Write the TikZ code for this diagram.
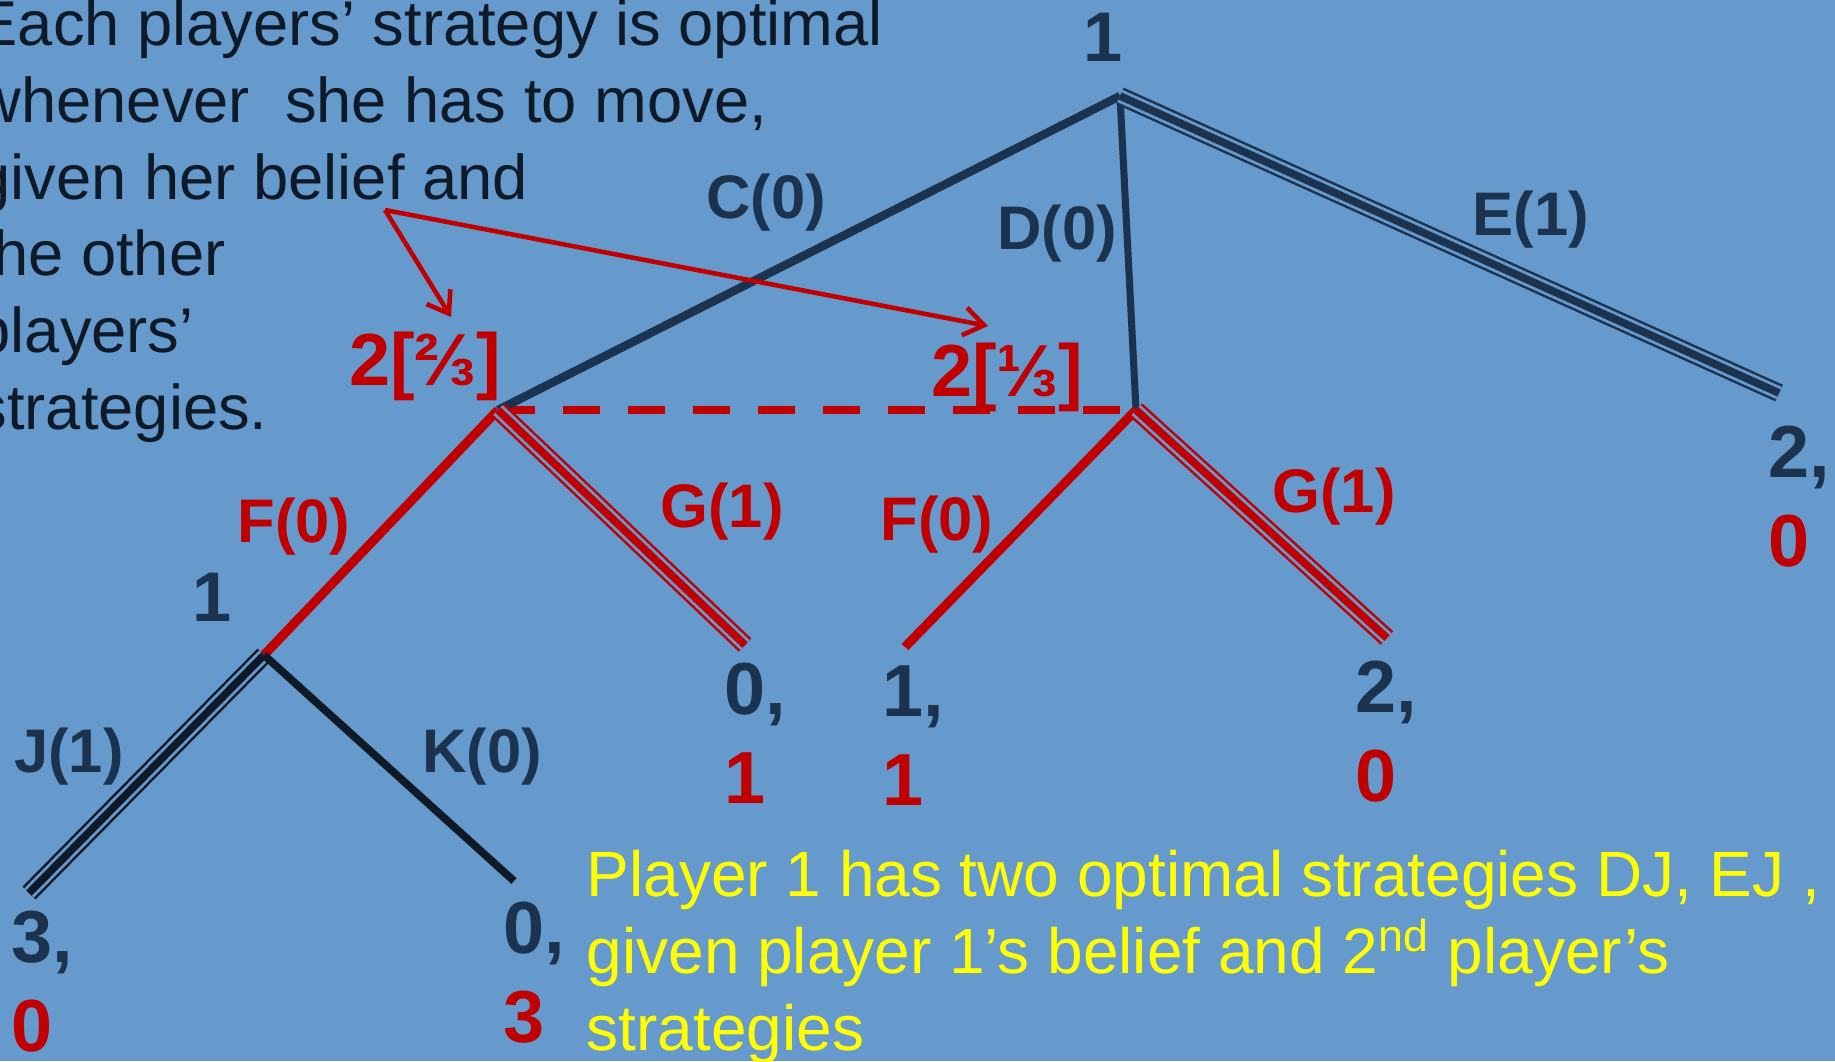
\documentclass[tikz,border=0pt]{standalone}
\usepackage{fontspec}
\setmainfont{Liberation Sans}
\usetikzlibrary{arrows.meta}
\definecolor{bgblue}{RGB}{102,153,204}
\definecolor{navy}{RGB}{28,51,79}
\definecolor{inkdark}{RGB}{14,26,40}
\definecolor{gred}{RGB}{192,0,0}
\definecolor{gyellow}{RGB}{255,255,0}
\tikzset{
  branch/.style={draw=#1, line width=2.4pt},
  optimal/.style={draw=#1, line width=2.2pt,
    preaction={draw=#1, line width=5.2pt},
    preaction={draw=bgblue, line width=3.8pt}},
  lbl/.style={font=\fontsize{17.5}{20}\selectfont\bfseries, text=#1, inner sep=0pt},
  player/.style={font=\fontsize{20}{24}\selectfont\bfseries, text=navy, inner sep=0pt},
  beliefs/.style={font=\fontsize{21}{25}\selectfont\bfseries, text=gred, inner sep=0pt},
  pay/.style={font=\fontsize{21}{25.3}\selectfont\bfseries, align=left,
    anchor=base west, inner sep=0pt},
  pointer/.style={gred, line width=1.3pt, -{Straight Barb[length=2mm, width=2.8mm]}},
}
% last line of a node sits on its anchor
\newcommand{\payoff}[2]{\textcolor{navy}{#1,}\\\textcolor{gred}{#2}}
\begin{document}
\begin{tikzpicture}[x=0.1mm, y=-0.1mm]
% ===== background =====
\useasboundingbox (0,0) rectangle (1835,1061);
\fill[bgblue] (0,0) rectangle (1835,1061);

% ===== decision nodes and ends =====
\coordinate (r) at (1120,96);
\coordinate (n2l) at (498,410);
\coordinate (n2r) at (1136,410);
\coordinate (n1) at (264,655);
\coordinate (tE) at (1779,393);
\coordinate (tGl) at (745,645);
\coordinate (tFr) at (905,647);
\coordinate (tGr) at (1387,638);
\coordinate (tJ) at (29,893);
\coordinate (tK) at (514,881);

% ===== information set =====
\draw[gred, line width=2.4pt, dash pattern=on 10.5pt off 8pt] (n2l) -- (n2r);

% ===== branches =====
\draw[branch=navy] (r) -- (n2l);
\draw[branch=navy, line width=2pt] (r) -- (n2r);
\path[optimal=navy] (r) -- (tE);
\draw[branch=gred, line width=2.6pt] (n2l) -- (n1);
\path[optimal=gred] (n2l) -- (tGl);
\draw[branch=gred, line width=2.6pt] (n2r) -- (tFr);
\path[optimal=gred] (n2r) -- (tGr);
\path[optimal=inkdark] (n1) -- (tJ);
\draw[branch=inkdark, line width=2.2pt] (n1) -- (tK);

% ===== labels =====
\node[player] (p1top) at (1103,37) {1};
\node[player] (p1low) at (212,597) {1};
\node[beliefs] (b2l) at (425,366) {2[⅔]};
\node[beliefs] (b2r) at (1007,377) {2[⅓]};

\node[lbl=navy] (lC) at (766,203) {C(0)};
\node[lbl=navy] (lD) at (1057,234) {D(0)};
\node[lbl=navy] (lE) at (1531,220) {E(1)};
\node[lbl=gred] (lFl) at (294,527) {F(0)};
\node[lbl=gred] (lGl) at (722,512) {G(1)};
\node[lbl=gred] (lFr) at (937,525) {F(0)};
\node[lbl=gred] (lGr) at (1334,497) {G(1)};
\node[lbl=navy] (lJ) at (69,757) {J(1)};
\node[lbl=navy] (lK) at (482,757) {K(0)};

% ===== payoffs =====
\node[pay] (oJ) at (11,1051) {\payoff{3}{0}};
\node[pay] (oK) at (503,1042) {\payoff{0}{3}};
\node[pay] (oGl) at (724,803) {\payoff{0}{1}};
\node[pay] (oFr) at (882,805) {\payoff{1}{1}};
\node[pay] (oGr) at (1355,801) {\payoff{2}{0}};
\node[pay] (oE) at (1768,566) {\payoff{2}{0}};

% ===== texts =====
\node[anchor=base west, align=left, inner sep=0pt, text=inkdark,
  font=\fontsize{18}{21.8}\selectfont] (belief) at (-25,429)
  {Each players’ strategy is optimal\\whenever~ she has to move,\\given her belief and\\the other\\players’\\strategies.};
\node[anchor=base west, align=left, inner sep=0pt, text=gyellow,
  font=\fontsize{18.2}{21.8}\selectfont] (note) at (586,1050)
  {Player 1 has two optimal strategies DJ, EJ ,\\given player 1’s belief and 2\textsuperscript{nd} player’s\\strategies};

% ===== pointers =====
\coordinate (src) at (385,210);
\coordinate (tip1) at (451,317);
\coordinate (tip2) at (988,326);
\draw[pointer] (src) -- (tip1);
\draw[pointer] (src) -- (tip2);
\end{tikzpicture}
\end{document}
